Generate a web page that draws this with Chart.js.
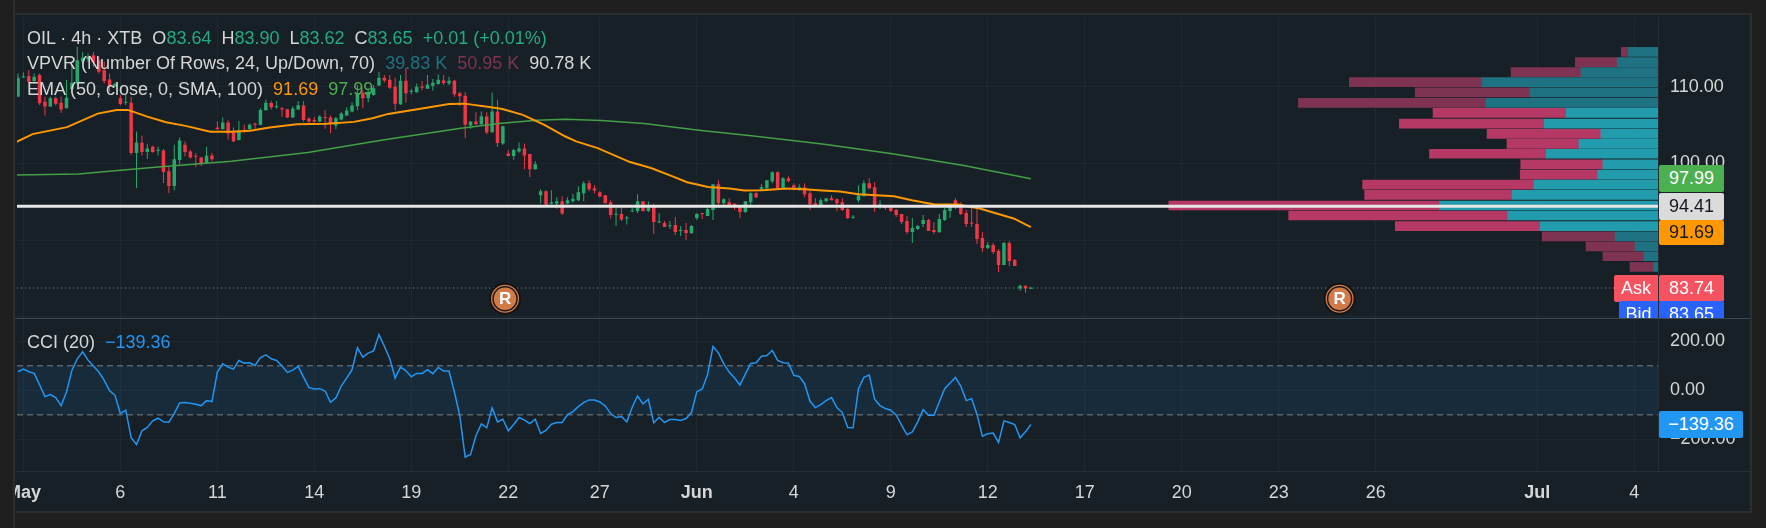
<!DOCTYPE html>
<html>
<head>
<meta charset="utf-8">
<title>OIL 4h</title>
<script src="https://cdn.jsdelivr.net/npm/chart.js@4/dist/chart.umd.min.js"></script>
<style>
html,body{margin:0;padding:0;background:#1f1f1f;width:1766px;height:528px;overflow:hidden;font-family:"Liberation Sans",Arial,sans-serif}
#panel{position:absolute;left:13px;top:13px;width:1735px;height:496px;background:#172026;border:2px solid #2a2e2e}
canvas{position:absolute;left:0;top:0}
.gutter{position:absolute;left:0;top:0;width:13px;height:528px;background:#1f1f1f;border-right:2px solid #2a2e2e;z-index:3}
.rule{position:absolute;left:15px;width:1735px;height:1px;z-index:3}
.leg{position:absolute;left:27px;font-size:18px;line-height:20px;color:#d6d6d6;white-space:pre;z-index:4}
.tags{position:absolute;left:0;top:0;width:1766px;height:318px;overflow:hidden;z-index:5}
.tagsb{position:absolute;left:0;top:319px;width:1766px;height:152px;overflow:hidden;z-index:5}
.tag{position:absolute;font-size:18px;text-align:center;border-radius:2px}
.rmark{position:absolute;font-size:17px;line-height:20px;font-weight:bold;color:#fff;width:20px;text-align:center;z-index:2}
</style>
</head>
<body>
<div id="panel"></div>
<canvas id="c" width="1766" height="528"></canvas>
<div class="gutter"></div>
<div class="rule" style="top:318px;background:#3a4a55"></div>
<div class="rule" style="top:471px;background:#232e35"></div>
<div class="leg" style="top:28px">OIL · 4h · XTB  O<span class="g">83.64</span>  H<span class="g">83.90</span>  L<span class="g">83.62</span>  C<span class="g">83.65</span>  <span class="g">+0.01 (+0.01%)</span></div>
<div class="leg" style="top:53px">VPVR (Number Of Rows, 24, Up/Down, 70)  <span style="color:#1f7282">39.83 K</span>  <span style="color:#7f3352">50.95 K</span>  <span>90.78 K</span></div>
<div class="leg" style="top:79px">EMA (50, close, 0, SMA, 100)  <span style="color:#ff9800">91.69</span>  <span style="color:#4caf50">97.99</span></div>
<div class="leg" style="top:332px">CCI (20)  <span style="color:#2196f3">−139.36</span></div>
<div class="tags" id="tags"></div>
<div class="tagsb" id="tagsb"></div>
<script>
document.querySelectorAll('.g').forEach(e=>e.style.color='#22ab80');

const firstBar = -1;
const opens = [108.70,111.21,111.38,110.73,111.51,108.05,107.40,108.48,107.92,107.18,
109.65,110.43,113.33,113.59,114.11,113.46,112.16,110.95,110.00,108.48,
107.92,107.92,101.34,102.68,101.47,102.16,101.64,101.68,98.96,97.05,
100.43,102.42,101.55,100.91,100.77,100.00,101.03,104.67,104.45,105.32,
104.24,103.03,104.33,104.45,105.10,105.02,106.92,107.87,107.31,107.18,
107.05,105.97,107.01,107.53,105.84,105.67,105.45,105.97,105.97,104.93,
105.71,106.23,106.75,107.44,109.17,108.48,108.91,110.17,111.16,110.91,
110.00,107.70,110.78,109.35,109.26,110.04,109.74,110.13,110.34,110.82,
110.43,110.78,109.13,108.83,104.93,105.45,105.10,106.10,104.07,106.75,
102.59,101.29,100.95,101.55,101.94,101.21,
99.22,95.84,96.36,94.76,94.76,95.07,94.76,95.07,95.19,96.10,
97.40,96.75,96.23,95.84,94.94,93.29,93.38,92.81,93.72,93.77,
95.07,93.77,94.55,92.29,92.21,91.78,91.95,91.17,91.30,90.91,
92.86,93.46,93.12,93.90,97.27,94.81,94.94,94.72,94.29,93.64,
94.94,96.10,96.58,96.75,97.66,98.83,96.75,98.05,97.14,96.49,
96.88,96.10,94.81,94.46,95.07,95.45,95.33,94.94,94.03,92.90,
95.19,95.71,97.40,96.88,94.42,94.42,94.29,93.90,93.38,92.47,
91.04,91.43,92.08,92.60,91.30,91.04,92.60,93.77,95.19,94.55,
93.51,92.21,92.08,90.26,88.96,89.35,88.57,86.75,89.61,87.40,
83.68,84.03,83.64];
const highs = [111.73,111.86,112.16,111.73,111.73,108.70,108.70,108.70,108.70,110.86,
112.81,115.19,114.54,114.33,114.54,113.89,113.24,111.73,110.56,108.91,
108.91,108.70,104.15,103.59,102.55,102.33,102.16,101.86,99.61,102.42,
103.37,102.85,101.77,101.34,100.86,102.16,101.38,105.45,105.97,105.62,
104.67,105.54,105.02,105.19,105.32,107.18,108.31,108.13,108.13,107.36,
107.05,107.44,108.09,108.13,105.97,106.06,106.32,106.97,106.23,106.06,
106.71,107.31,107.96,110.21,109.56,109.78,110.21,111.94,111.51,111.51,
111.16,111.51,112.46,109.69,110.43,110.73,111.51,110.99,111.60,111.51,
111.29,110.91,109.35,109.26,105.45,106.66,106.75,106.66,109.22,108.26,
104.89,101.73,101.90,102.72,102.59,101.21,
100.26,96.62,96.49,96.49,95.58,95.71,95.58,96.02,97.01,97.66,
97.79,97.14,96.36,95.84,95.19,94.20,94.20,93.12,94.20,95.97,
95.07,95.07,94.72,93.51,92.47,92.47,92.99,91.82,92.21,91.95,
93.51,93.51,94.16,97.27,97.79,95.45,95.45,94.81,94.55,95.07,
96.23,96.23,97.27,97.79,98.96,98.96,98.18,98.31,97.40,97.27,
97.40,96.62,95.45,95.45,95.45,95.84,95.45,95.45,94.16,93.25,
97.14,97.79,98.05,97.53,95.19,94.55,94.55,94.03,93.38,93.12,
92.86,91.95,93.25,92.73,92.34,93.38,94.16,94.68,95.45,94.94,
93.90,94.42,94.29,91.04,89.74,89.61,88.83,89.74,89.87,87.53,
84.16,84.03,83.90];
const lows = [108.70,111.16,110.43,110.43,107.62,106.23,107.40,107.53,106.58,107.18,
109.35,110.21,113.03,113.24,112.59,111.73,110.43,109.35,109.95,107.53,
107.62,101.12,96.79,101.03,100.56,101.38,101.03,97.44,96.14,96.45,
99.91,100.91,100.60,99.52,99.65,100.00,100.26,104.41,104.45,103.11,
102.77,102.98,103.98,104.37,104.50,104.97,106.88,107.01,107.14,106.06,
105.93,105.97,106.97,105.45,105.28,105.15,105.41,104.50,103.93,104.45,
105.62,106.19,106.66,106.92,107.18,107.96,108.83,110.13,110.56,109.69,
106.92,107.62,107.92,109.00,109.22,109.52,109.69,109.48,110.30,110.21,
110.21,108.70,107.48,103.29,104.50,105.02,105.02,103.81,104.02,102.12,
102.42,100.91,100.47,101.38,99.22,98.22,
99.18,94.81,94.46,94.63,94.07,93.25,94.72,94.85,95.07,95.07,
96.36,96.10,95.58,94.81,92.81,91.82,92.47,92.03,93.64,93.51,
93.68,93.64,90.78,92.21,91.69,91.43,90.65,90.52,90.00,90.78,
92.60,92.73,93.12,92.60,94.55,94.55,94.37,93.90,92.86,93.51,
94.55,95.45,96.49,96.62,97.40,96.75,96.62,97.53,96.49,96.45,
95.58,93.90,94.42,94.42,94.94,95.19,93.77,93.77,92.73,92.73,
94.94,95.71,96.62,93.64,94.03,93.90,93.64,92.99,92.08,90.78,
89.61,91.30,91.69,91.17,90.78,90.91,92.47,92.86,94.03,93.25,
91.69,91.69,89.48,88.44,88.83,88.18,85.84,86.75,86.62,86.62,
83.38,83.12,83.62];
const closes = [111.16,111.29,110.65,111.29,107.83,107.40,108.48,107.79,107.01,108.57,
110.52,113.46,113.76,113.89,113.16,111.94,110.73,110.00,110.39,107.74,
108.05,101.34,102.72,101.47,101.94,101.47,101.73,98.87,97.05,100.52,
102.98,101.47,100.77,100.86,100.00,100.99,100.52,104.45,105.32,103.89,
102.85,104.24,104.24,105.02,105.02,106.97,107.92,107.31,107.36,107.01,
105.97,107.14,107.57,105.67,105.45,105.45,106.10,105.93,105.19,105.88,
106.49,106.88,107.53,109.17,108.48,109.35,109.78,111.16,110.82,109.87,
107.79,110.78,109.13,109.43,110.00,109.87,110.26,110.52,110.91,110.47,
110.78,109.00,108.74,105.02,105.45,105.10,106.14,104.02,106.75,102.64,
104.84,100.95,101.73,101.94,101.03,99.22,
99.87,96.36,94.63,94.94,95.07,93.46,95.19,95.37,96.23,97.40,
96.62,96.45,95.67,94.81,93.25,93.38,92.68,92.90,93.85,95.07,
93.77,94.29,92.34,92.38,91.69,91.91,91.04,91.26,90.91,91.82,
93.38,93.38,94.03,97.27,94.81,95.33,94.55,94.55,93.64,95.07,
96.10,95.58,96.88,97.79,98.83,96.75,98.05,97.66,96.54,96.88,
95.97,94.68,94.50,95.19,95.45,95.19,94.81,93.90,92.86,92.99,
95.84,97.40,96.75,94.42,94.63,94.20,93.77,93.25,92.34,91.04,
91.56,91.82,92.60,91.17,91.04,92.73,93.90,94.42,94.55,93.38,
92.08,92.12,90.13,88.96,89.35,88.44,86.75,89.61,87.27,86.62,
84.03,83.68,83.65];

const ema50Bars = [-1.27,1.7,8.1,13.8,17.3,19.4,23,26.5,30.1,34.7,38.6,42.1,45.7,50.7,56.3,61.3,64.8,67.7,73.4,79,81.9,86.8,88.9,92.7,96.7,100.6,102.6,106.6,112.6,116.5,120.5,123.2,127.1,131.1,133.8,137.1,141.7,145,148.3,151.6,155,161.6,164.9,168.9,173.5,177.5,183.8,187];
const ema50Vals = [102.81,103.81,104.72,106.49,106.97,106.97,106.10,105.37,104.89,104.11,104.11,104.24,104.68,105.11,105.15,105.41,105.89,106.45,107.10,107.75,107.79,107.32,107.10,106.32,105.02,103.50,102.86,101.99,100.17,99.39,98.31,97.53,96.92,96.71,96.45,96.49,96.71,96.62,96.45,96.32,95.97,95.71,95.19,94.68,94.63,94.11,92.81,91.69];
const ema100Bars = [-1.27,10.2,24.4,38.6,52.8,67,81.2,88.3,95.3,100.6,107.3,115.2,125.8,135.1,148.3,161.6,174.8,187];
const ema100Vals = [98.49,98.62,99.48,100.26,101.43,103.08,104.59,105.19,105.63,105.76,105.58,105.19,104.28,103.59,102.51,101.21,99.69,97.99];

const cci = [75.8,86.6,75.8,69,23,-25.6,-17.5,-29.7,-62.1,-6.7,81.2,128.5,156.9,123.1,98.8,74.4,40.6,-1.3,-20.2,-94.6,-81,
-193.3,-220.3,-164.9,-151.4,-124.3,-113.5,-128.4,-129.7,-94.6,-51.3,-50,-52.7,-56.7,-62.1,-41.9,-45.9,74.4,108.2,94.7,86.6,
121.7,110.9,112.3,101.5,133.9,144.7,128.5,121.7,98.8,73,82.5,97.4,54.1,10.9,5.5,6.8,-2.6,-48.6,-31,17.6,50.1,83.9,173.1,135.3,
151.5,161,227.2,179.9,128.5,50.1,94.7,79.8,55.5,69,69,83.9,67.7,93.4,78.5,78.5,-6.7,-104.1,-271.7,-260.9,-185.2,-136.5,-152.7,
-71.6,-128.4,-117.6,-164.9,-139.2,-110.8,-121.6,-135.1,-117.6,-175.7,-163.5,-137.8,-131.1,-131.1,-98.6,-86.5,-66.2,-49.9,-39.1,
-39.1,-47.3,-63.5,-94.6,-110.8,-106.7,-128.4,-68.9,-22.9,-55.4,-36.4,-132.4,-109.5,-131.1,-118.9,-118.9,-123,-114.9,-90.5,-5.4,
5.5,64.9,178.5,152.8,108.2,74.4,50.1,21.7,66.3,109.6,112.3,139.3,142,162.3,121.7,112.3,110.9,60.9,56.8,27.1,-44.6,-70.2,-58.1,
-41.9,-29.7,-70.2,-90.5,-151.4,-152.7,6.8,52.8,62.2,-36.4,-62.1,-74.3,-81,-101.3,-141.9,-181.1,-169,-128.4,-78.4,-101.3,-101.3,
-47.3,6.8,29.8,52.8,16.3,-41.9,-33.7,-98.6,-186.5,-177,-174.3,-212.2,-124.3,-131.1,-139.2,-193.3,-169,-139.36];

const profilePrices = [114.54,113.2,111.9,110.6,109.26,107.88,106.58,105.19,103.85,102.55,101.25,99.87,98.53,97.23,95.88,94.5,93.2,91.82,90.47,89.18,87.88,86.49];
const profileUp = [0.58,0.80,1.51,3.45,2.51,3.37,1.80,2.23,1.12,1.55,2.19,1.08,1.18,2.43,2.86,4.28,2.95,2.31,0.84,0.45,0.28,0.08];
const profileDown = [0.14,0.82,1.37,2.60,2.25,3.68,2.61,2.84,2.23,1.41,2.29,1.61,1.52,3.36,2.89,5.31,4.29,2.84,1.43,0.96,0.80,0.47];
const valueArea = [0,0,0,0,0,0,1,1,1,1,1,1,1,1,1,1,1,1,0,0,0,0];

const xTickBars = [0,18,36,54,72,90,107,125,143,161,179,197,215,233,251,281,299];
const xTickLabels = ['May','6','11','14','19','22','27','Jun','4','9','12','17','20','23','26','Jul','4'];
const priceTicks = [110,100,90,80];
const cciTicks = [200,0,-200];
const lastPrice = 94.41, askPrice = 83.74, bidPrice = 83.65;
const cciUpper = 100, cciLower = -100;
const rMarkBars = [89.4,244.3];
const rMarkPrice = 82.34;

const xMin = -1.187, xMax = 303.4;
const green = '#26a96c', red = '#f23645';
const bars = opens.map((_,k)=>firstBar+k);
const candleColor = opens.map((o,k)=>closes[k]>=o?green:red);
const hline = v=>[{x:xMin,y:v},{x:xMax,y:v}];
const zip = (a,b)=>a.map((v,k)=>({x:v,y:b[k]}));
const lineBase = {type:'line',pointRadius:0,tension:0,fill:false};

const datasets = [
 {...lineBase,data:hline(cciUpper),yAxisID:'yc',xAxisID:'x',borderColor:'rgba(0,0,0,0)',borderWidth:0,fill:{value:cciLower},backgroundColor:'rgba(33,150,243,0.10)',order:20},
 {...lineBase,data:hline(cciUpper),yAxisID:'yc',xAxisID:'x',borderColor:'#7d8186',borderWidth:1,borderDash:[6,4],order:19},
 {...lineBase,data:hline(cciLower),yAxisID:'yc',xAxisID:'x',borderColor:'#7d8186',borderWidth:1,borderDash:[6,4],order:19},
 {type:'bar',indexAxis:'y',grouped:false,xAxisID:'xv',yAxisID:'yv',order:12,barThickness:9,barPercentage:1,
  data:profilePrices.map((p,k)=>({x:profileUp[k],y:p})),
  backgroundColor:valueArea.map(v=>v?'#229bad':'#1f7282')},
 {type:'bar',indexAxis:'y',grouped:false,xAxisID:'xv',yAxisID:'yv',order:12,barThickness:9,barPercentage:1,
  data:profilePrices.map((p,k)=>({x:profileDown[k],y:p})),
  backgroundColor:valueArea.map(v=>v?'#b63865':'#7f3352')},
 {type:'bar',xAxisID:'x',yAxisID:'yp',order:6,grouped:false,maxBarThickness:1,
  data:bars.map((b,k)=>({x:b,y:[lows[k],highs[k]]})),backgroundColor:candleColor},
 {type:'bar',xAxisID:'x',yAxisID:'yp',order:5,grouped:false,maxBarThickness:3.5,minBarLength:1,
  data:bars.map((b,k)=>({x:b,y:[Math.min(opens[k],closes[k]),Math.max(opens[k],closes[k])]})),backgroundColor:candleColor},
 {...lineBase,data:zip(ema100Bars,ema100Vals),xAxisID:'x',yAxisID:'yp',borderColor:'#43a047',borderWidth:1.5,order:4},
 {...lineBase,data:zip(ema50Bars,ema50Vals),xAxisID:'x',yAxisID:'yp',borderColor:'#ff9800',borderWidth:2,order:3},
 {...lineBase,data:hline(lastPrice),xAxisID:'x',yAxisID:'yp',borderColor:'#e6e6e6',borderWidth:3,order:1},
 {...lineBase,data:hline(askPrice),xAxisID:'x',yAxisID:'yp',borderColor:'#f7525f',borderWidth:1,borderDash:[1,3],order:2},
 {...lineBase,showLine:false,data:rMarkBars.map(b=>({x:b,y:rMarkPrice})),xAxisID:'x',yAxisID:'yp',pointRadius:15,pointBackgroundColor:'#d27a48',pointBorderColor:'#141414',pointBorderWidth:2,order:0.6},
 {...lineBase,showLine:false,data:rMarkBars.map(b=>({x:b,y:rMarkPrice})),xAxisID:'x',yAxisID:'yp',pointRadius:12,pointBackgroundColor:'#d27a48',pointBorderColor:'#1c1c1c',pointBorderWidth:1.5,order:0.5},
 {...lineBase,data:cci.map((v,k)=>({x:bars[k],y:v})),xAxisID:'x',yAxisID:'yc',borderColor:'#2196f3',borderWidth:1.5,order:1}
];

const gridColor = '#1e292f', axisFont = {family:'"Liberation Sans",Arial,sans-serif',size:18};
const noPad = s=>{s.paddingLeft=0;s.paddingRight=0;s.paddingTop=0;s.paddingBottom=0};
const chart = new Chart(document.getElementById('c'),{
 type:'bar',
 data:{datasets},
 options:{
  responsive:false,animation:false,devicePixelRatio:1,
  layout:{padding:{left:15,top:15,right:16,bottom:15}},
  plugins:{legend:{display:false},tooltip:{enabled:false}},
  scales:{
   x:{type:'linear',axis:'x',position:'bottom',min:xMin,max:xMax,offset:false,
      grid:{color:gridColor,drawTicks:false,lineWidth:1,offset:false},border:{display:false},
      afterBuildTicks:s=>{s.ticks=xTickBars.map(v=>({value:v}))},
      afterFit:s=>{s.height=42;noPad(s)},
      ticks:{autoSkip:false,maxRotation:0,padding:11,color:'#d6d6d6',
        callback:v=>xTickLabels[xTickBars.indexOf(v)],
        font:c=>({...axisFont,weight:(c.tick&&['May','Jun','Jul'].includes(xTickLabels[xTickBars.indexOf(c.tick.value)]))?'bold':'normal'})}},
   xv:{type:'linear',axis:'x',display:false,reverse:true,stacked:true,min:0,max:32.17,offset:false,grid:{display:false,offset:false}},
   yv:{type:'linear',axis:'y',position:'right',display:false,min:59.87,max:119.09,offset:false,grid:{display:false,offset:false}},
   yp:{type:'linear',axis:'y',position:'right',stack:'panes',stackWeight:303,weight:1,min:79.74,max:119.09,offset:false,
      grid:{color:gridColor,drawTicks:false,offset:false},border:{display:true,color:'#232e35'},
      afterBuildTicks:s=>{s.ticks=priceTicks.map(v=>({value:v}))},
      afterFit:s=>{s.width=92;noPad(s)},
      ticks:{padding:12,color:'#d6d6d6',font:axisFont,callback:v=>v>=90?v.toFixed(2):''}},
   yc:{type:'linear',axis:'y',position:'right',stack:'panes',stackWeight:153,weight:2,min:-328.6,max:292,offset:false,
      grid:{color:gridColor,drawTicks:false,offset:false},border:{display:true,color:'#232e35'},
      afterBuildTicks:s=>{s.ticks=cciTicks.map(v=>({value:v}))},
      afterFit:s=>{s.width=92;noPad(s)},
      ticks:{padding:12,color:'#d6d6d6',font:axisFont,callback:v=>v.toFixed(2).replace('-','−')}}
  }
 }
});

/* value tags placed through the chart's own scales */
const tagBox = document.getElementById('tags'), tagBoxB = document.getElementById('tagsb');
function tag(box,text,px,left,width,h,bg,fg,radius){
 const d=document.createElement('div');d.className='tag';d.textContent=text;
 d.style.cssText+=`left:${left}px;width:${width}px;top:${px-h/2}px;height:${h}px;line-height:${h}px;background:${bg};color:${fg};border-radius:${radius||'2px'}`;
 box.appendChild(d);
}
const yp=chart.scales.yp, yc=chart.scales.yc, xs=chart.scales.x;
tag(tagBox,ema100Vals[ema100Vals.length-1].toFixed(2),yp.getPixelForValue(97.99),1659,65,27,'#4caf50','#fff');
tag(tagBox,lastPrice.toFixed(2),yp.getPixelForValue(lastPrice),1659,65,27,'#dbdbdb','#131722');
tag(tagBox,ema50Vals[ema50Vals.length-1].toFixed(2),yp.getPixelForValue(91.69)+5.5,1659,65,25,'#ff9800','#131722');
tag(tagBox,'Ask',yp.getPixelForValue(askPrice),1614,44,27,'#f7525f','#fff','2px 0 0 2px');
tag(tagBox,askPrice.toFixed(2),yp.getPixelForValue(askPrice),1659,65,27,'#f7525f','#fff');
tag(tagBox,'Bid',yp.getPixelForValue(bidPrice)+26,1619,39,27,'#2962ff','#fff','2px 0 0 2px');
tag(tagBox,bidPrice.toFixed(2),yp.getPixelForValue(bidPrice)+26,1659,65,27,'#2962ff','#fff');
tag(tagBoxB,'−139.36',yc.getPixelForValue(cci[cci.length-1])-319,1659,84,27,'#2196f3','#fff');
rMarkBars.forEach(b=>{
 const d=document.createElement('div');d.className='rmark';d.textContent='R';
 d.style.left=(xs.getPixelForValue(b)-10)+'px';
 d.style.top=(yp.getPixelForValue(rMarkPrice)-10)+'px';
 document.body.appendChild(d);
});
</script>
</body>
</html>
